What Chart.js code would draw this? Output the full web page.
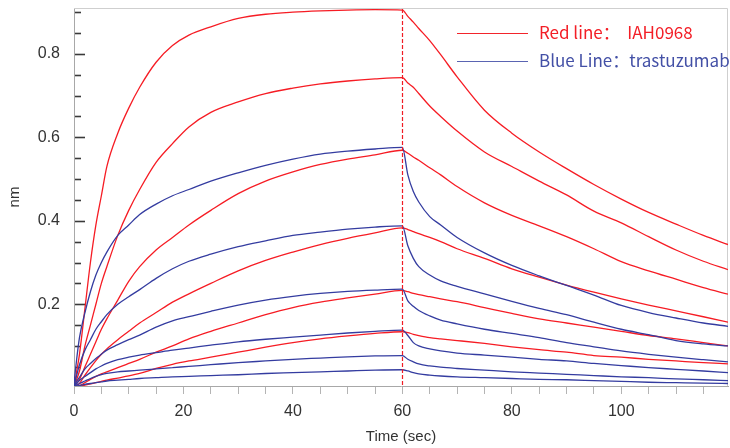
<!DOCTYPE html>
<html lang="en">
<head>
    <meta charset="UTF-8">
    <title>Red line IAH0968 / Blue Line trastuzumab</title>
    <style>
        html, body { margin: 0; padding: 0; background: #fff; }
        .container { width: 730px; height: 448px; position: relative; }
    </style>
</head>
<body>
    <div class="container">
        <canvas id="grafica" width="730" height="448"></canvas>
    </div>

    <script src="https://cdn.jsdelivr.net/npm/chart.js"></script>
    <script>
        // time points (sec)
        const time = [0, 0.5, 1, 2, 3, 4, 5, 6, 8, 10, 12, 15, 18, 21, 25, 30, 35, 40, 45, 50, 55, 60,
                      61, 62, 63, 65, 67, 70, 75, 80, 85, 90, 95, 100, 105, 110, 115, 119.5];

        // Red line: IAH0968 (nm)
        const red1 = [0, 0.04, 0.08, 0.19, 0.30, 0.39, 0.46, 0.53, 0.61, 0.67, 0.72, 0.78, 0.82, 0.845, 0.865, 0.885, 0.895, 0.90, 0.903, 0.905, 0.906, 0.905,
                      0.89, 0.876, 0.861, 0.832, 0.798, 0.745, 0.665, 0.61, 0.565, 0.525, 0.487, 0.452, 0.42, 0.392, 0.365, 0.343];
        const red2 = [0, 0.02, 0.04, 0.10, 0.15, 0.20, 0.25, 0.29, 0.365, 0.425, 0.475, 0.54, 0.585, 0.625, 0.66, 0.685, 0.705, 0.718, 0.728, 0.735, 0.740, 0.743,
                      0.73, 0.72, 0.705, 0.675, 0.65, 0.615, 0.565, 0.53, 0.495, 0.462, 0.423, 0.395, 0.362, 0.33, 0.303, 0.283];
        const red3 = [0, 0.01, 0.02, 0.05, 0.08, 0.11, 0.14, 0.165, 0.21, 0.255, 0.29, 0.33, 0.36, 0.39, 0.425, 0.465, 0.495, 0.517, 0.535, 0.548, 0.558, 0.569,
                      0.562, 0.553, 0.545, 0.527, 0.51, 0.482, 0.443, 0.413, 0.388, 0.362, 0.333, 0.302, 0.28, 0.26, 0.24, 0.224];
        const red4 = [0, 0.005, 0.01, 0.03, 0.048, 0.065, 0.08, 0.093, 0.115, 0.135, 0.155, 0.18, 0.205, 0.225, 0.25, 0.28, 0.305, 0.325, 0.343, 0.358, 0.371, 0.383,
                      0.379, 0.374, 0.369, 0.36, 0.35, 0.333, 0.31, 0.285, 0.265, 0.246, 0.229, 0.213, 0.198, 0.184, 0.17, 0.157];
        const red5 = [0, 0.003, 0.005, 0.012, 0.02, 0.027, 0.033, 0.038, 0.048, 0.058, 0.068, 0.085, 0.10, 0.117, 0.135, 0.155, 0.175, 0.192, 0.205, 0.215, 0.224, 0.233,
                      0.23, 0.226, 0.223, 0.218, 0.213, 0.206, 0.192, 0.178, 0.165, 0.155, 0.145, 0.135, 0.125, 0.117, 0.108, 0.10];
        const red6 = [0, 0.002, 0.003, 0.006, 0.009, 0.012, 0.015, 0.018, 0.023, 0.028, 0.034, 0.046, 0.056, 0.064, 0.073, 0.085, 0.097, 0.108, 0.117, 0.124, 0.13, 0.134,
                      0.132, 0.128, 0.125, 0.12, 0.117, 0.113, 0.106, 0.098, 0.091, 0.085, 0.077, 0.073, 0.068, 0.064, 0.06, 0.057];

        // Blue Line: trastuzumab (nm)
        const blue1 = [0.01, 0.07, 0.12, 0.18, 0.23, 0.27, 0.30, 0.325, 0.365, 0.39, 0.415, 0.44, 0.46, 0.475, 0.495, 0.515, 0.533, 0.548, 0.56, 0.567, 0.572, 0.576,
                       0.51, 0.47, 0.445, 0.41, 0.39, 0.36, 0.323, 0.293, 0.268, 0.245, 0.222, 0.197, 0.18, 0.167, 0.155, 0.147];
        const blue2 = [0.005, 0.03, 0.055, 0.09, 0.115, 0.14, 0.158, 0.175, 0.2, 0.218, 0.235, 0.262, 0.285, 0.303, 0.32, 0.338, 0.352, 0.365, 0.373, 0.38, 0.385, 0.388,
                       0.34, 0.31, 0.29, 0.27, 0.256, 0.243, 0.225, 0.207, 0.19, 0.175, 0.157, 0.14, 0.127, 0.113, 0.105, 0.10];
        const blue3 = [0.003, 0.015, 0.025, 0.045, 0.058, 0.07, 0.08, 0.09, 0.103, 0.115, 0.126, 0.145, 0.16, 0.17, 0.183, 0.198, 0.21, 0.219, 0.226, 0.231, 0.234, 0.236,
                       0.208, 0.195, 0.185, 0.172, 0.162, 0.153, 0.14, 0.13, 0.12, 0.108, 0.098, 0.088, 0.08, 0.073, 0.067, 0.062];
        const blue4 = [0.002, 0.01, 0.017, 0.027, 0.036, 0.045, 0.052, 0.058, 0.067, 0.073, 0.078, 0.084, 0.09, 0.095, 0.102, 0.11, 0.116, 0.121, 0.126, 0.131, 0.135, 0.138,
                       0.125, 0.108, 0.10, 0.093, 0.088, 0.083, 0.078, 0.073, 0.068, 0.064, 0.058, 0.053, 0.048, 0.044, 0.04, 0.036];
        const blue5 = [0, 0.006, 0.01, 0.016, 0.022, 0.027, 0.031, 0.034, 0.038, 0.04, 0.042, 0.045, 0.048, 0.051, 0.055, 0.06, 0.064, 0.068, 0.071, 0.074, 0.076, 0.077,
                       0.068, 0.062, 0.057, 0.052, 0.049, 0.046, 0.042, 0.038, 0.035, 0.032, 0.029, 0.026, 0.024, 0.021, 0.019, 0.017];
        const blue6 = [0, 0.003, 0.005, 0.008, 0.01, 0.012, 0.014, 0.016, 0.018, 0.02, 0.022, 0.024, 0.026, 0.027, 0.029, 0.031, 0.034, 0.036, 0.038, 0.04, 0.042, 0.043,
                       0.04, 0.036, 0.033, 0.03, 0.028, 0.026, 0.024, 0.022, 0.02, 0.019, 0.017, 0.015, 0.013, 0.012, 0.011, 0.01];

        const redSeries = [red1, red2, red3, red4, red5, red6];
        const blueSeries = [blue1, blue2, blue3, blue4, blue5, blue6];
        const xTickLabels = [0, 20, 40, 60, 80, 100];
        const yTickLabels = [0.2, 0.4, 0.6, 0.8];
        const switchTime = 60;
        const legendItems = [
            { text: 'Red line\uFF1A  IAH0968', color: '#f31e26', line: '#f2242b' },
            { text: 'Blue Line\uFF1Atrastuzumab', color: '#4350a6', line: '#5a64b2' }
        ];

        const RED = 'rgb(246, 28, 36)';
        const BLUE = 'rgb(52, 60, 160)';

        function toPoints(values) {
            return values.map((v, i) => ({ x: time[i], y: v }));
        }

        const datasets = [];
        blueSeries.forEach(s => datasets.push({ data: toPoints(s), borderColor: BLUE }));
        redSeries.forEach(s => datasets.push({ data: toPoints(s), borderColor: RED }));
        datasets.forEach(d => {
            d.borderWidth = 1.3;
            d.pointRadius = 0;
            d.fill = false;
            d.cubicInterpolationMode = 'monotone';
        });

        // extra drawing: plot frame, inner y tick marks, dashed line at 60 s, legend
        const extras = {
            id: 'extras',
            beforeDatasetsDraw(chart) {
                const { ctx, chartArea: a, scales } = chart;
                ctx.save();
                // top and right frame
                ctx.strokeStyle = '#cfcfcf';
                ctx.lineWidth = 1;
                ctx.beginPath();
                ctx.moveTo(a.left, a.top + 0.5);
                ctx.lineTo(a.right - 0.5, a.top + 0.5);
                ctx.lineTo(a.right - 0.5, a.bottom);
                ctx.stroke();
                // y tick marks inside the plot
                ctx.strokeStyle = '#3a3a3a';
                ctx.lineWidth = 1.6;
                scales.y.ticks.forEach(t => {
                    const y = Math.round(scales.y.getPixelForValue(t.value)) + 0.5;
                    const major = yTickLabels.some(v => Math.abs(v - t.value) < 1e-6);
                    ctx.beginPath();
                    ctx.moveTo(a.left + 1, y);
                    ctx.lineTo(a.left + (major ? 11 : 7), y);
                    ctx.stroke();
                });
                ctx.restore();
            },
            afterDatasetsDraw(chart) {
                const { ctx, chartArea: a, scales } = chart;
                ctx.save();
                const x = Math.round(scales.x.getPixelForValue(switchTime)) + 0.5;
                ctx.strokeStyle = '#f01c24';
                ctx.lineWidth = 1.2;
                ctx.setLineDash([4, 2]);
                ctx.beginPath();
                ctx.moveTo(x, a.top + 1);
                ctx.lineTo(x, a.bottom);
                ctx.stroke();
                ctx.setLineDash([]);

                // legend
                ctx.font = '17px "Noto Sans CJK SC", "Noto Sans", sans-serif';
                ctx.textBaseline = 'middle';
                legendItems.forEach((item, i) => {
                    const y = 33 + i * 28;
                    ctx.strokeStyle = item.line;
                    ctx.lineWidth = 1.2;
                    ctx.beginPath();
                    ctx.moveTo(457, y + 0.5);
                    ctx.lineTo(528, y + 0.5);
                    ctx.stroke();
                    ctx.fillStyle = item.color;
                    ctx.fillText(item.text, 539, y);
                });
                ctx.restore();
            }
        };

        const tickFont = { family: '"Liberation Sans", Arial, sans-serif', size: 16 };
        const titleFont = { family: '"Liberation Sans", Arial, sans-serif', size: 15 };

        new Chart(document.getElementById('grafica').getContext('2d'), {
            type: 'line',
            data: { datasets: datasets },
            options: {
                responsive: false,
                animation: false,
                layout: { padding: { top: 8, right: 2, left: 0, bottom: 0 } },
                plugins: { legend: { display: false }, tooltip: { enabled: false } },
                scales: {
                    x: {
                        type: 'linear',
                        min: 0,
                        max: 119.5,
                        afterFit(scale) {
                            scale.height = 62;
                            scale.paddingLeft = 0;
                            scale.paddingRight = 0;
                        },
                        ticks: {
                            stepSize: 5,
                            includeBounds: false,
                            autoSkip: false,
                            maxRotation: 0,
                            padding: 8,
                            color: '#333',
                            font: tickFont,
                            callback: v => xTickLabels.includes(v) ? String(v) : ''
                        },
                        grid: { drawOnChartArea: false, drawTicks: true, tickLength: 8, color: '#b4b4b4' },
                        border: { color: '#a8a8a8' },
                        title: { display: true, text: 'Time (sec)', color: '#333', font: titleFont, padding: { top: 0, bottom: 2 } }
                    },
                    y: {
                        min: 0.004,
                        max: 0.91,
                        afterFit(scale) {
                            scale.width = 74;
                            scale.paddingTop = 0;
                            scale.paddingBottom = 0;
                        },
                        ticks: {
                            stepSize: 0.05,
                            includeBounds: false,
                            autoSkip: false,
                            padding: 14,
                            color: '#333',
                            font: tickFont,
                            callback: v => yTickLabels.some(t => Math.abs(t - v) < 1e-6) ? v.toFixed(1) : ''
                        },
                        grid: { drawOnChartArea: false, drawTicks: false },
                        border: { color: '#a8a8a8' },
                        title: { display: true, text: 'nm', color: '#333', font: titleFont, padding: { top: 6, bottom: 0 } }
                    }
                }
            },
            plugins: [extras]
        });
    </script>
</body>
</html>
